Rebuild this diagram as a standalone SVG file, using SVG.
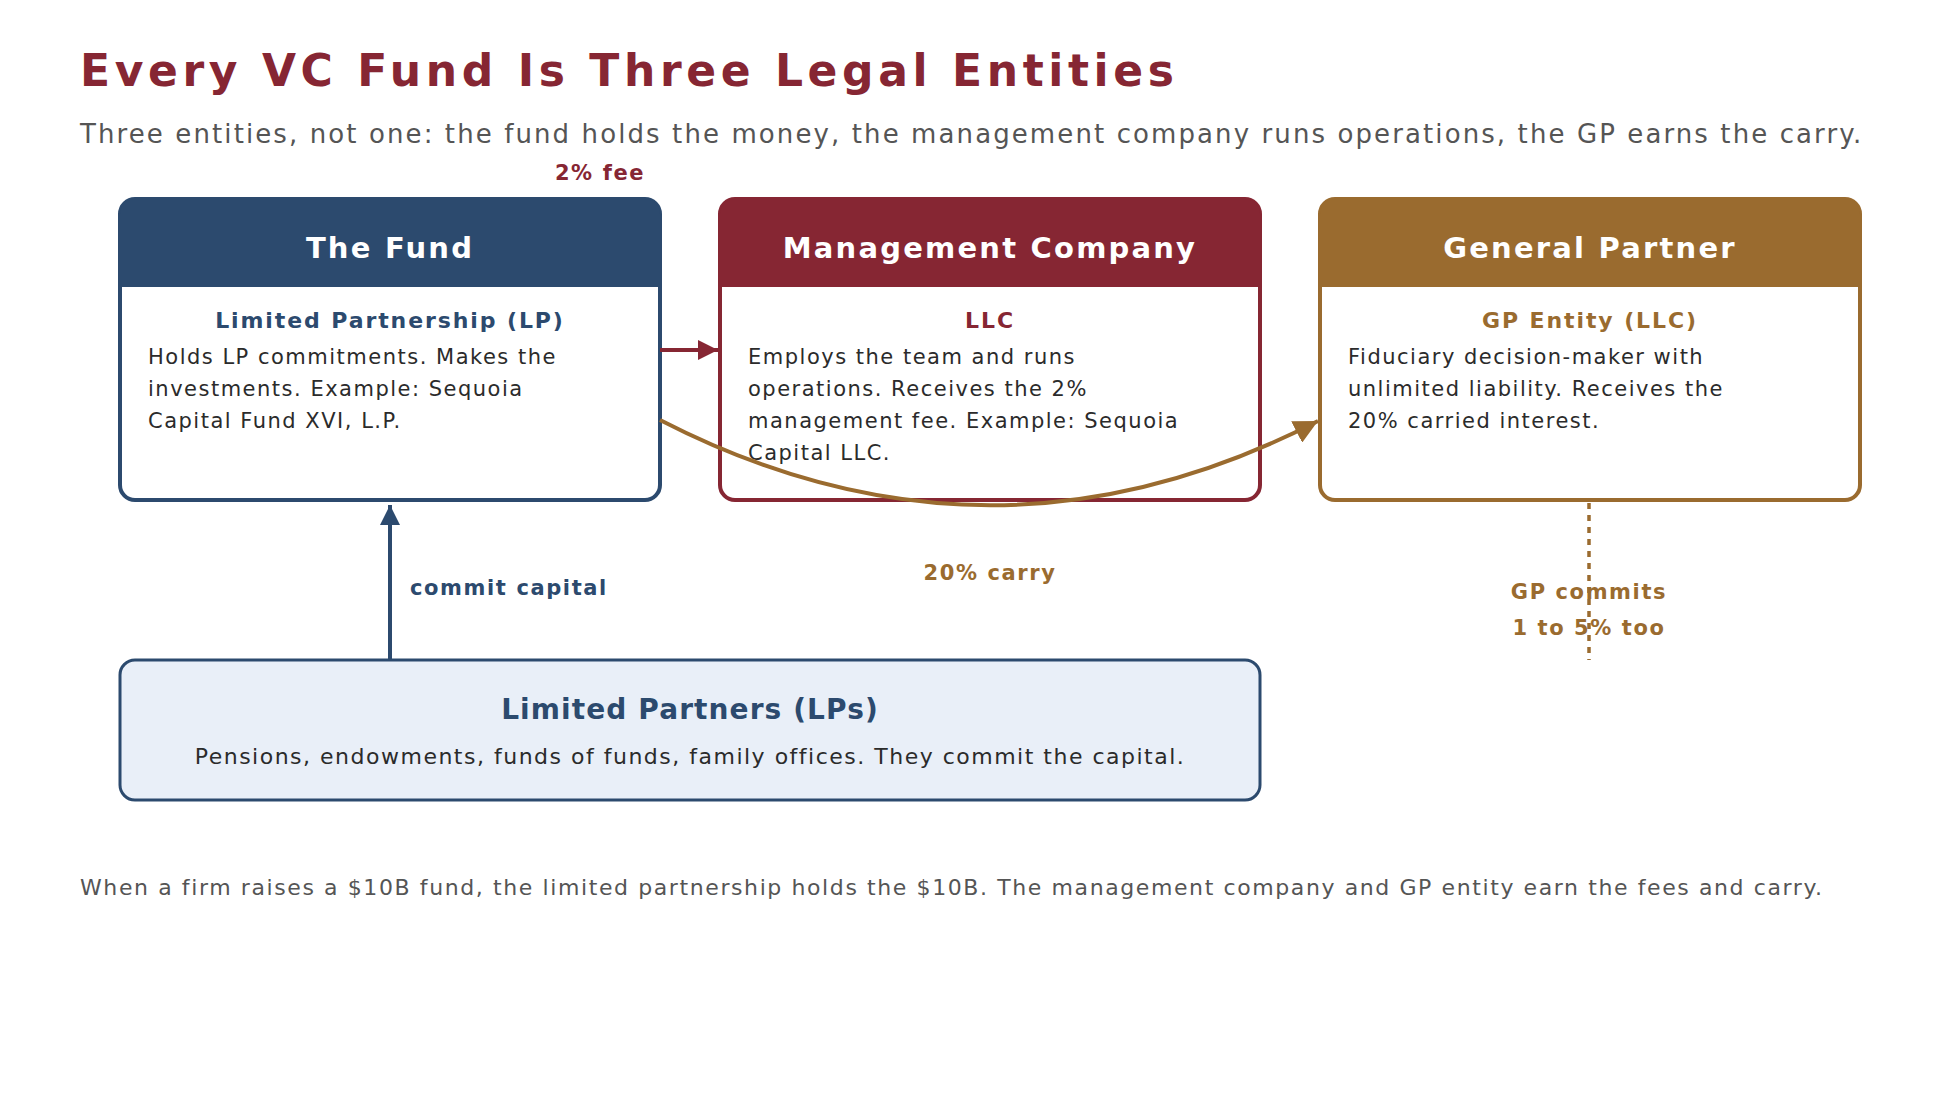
<svg xmlns="http://www.w3.org/2000/svg" width="1960" height="1120" viewBox="0 0 1960 1120">
<style>
text{font-family:"DejaVu Sans","Noto Sans",sans-serif}
.title{font-size:44px;font-weight:bold;fill:#862633;letter-spacing:4.6px}
.sub{font-size:26px;fill:#555;letter-spacing:2.1px}
.hdr{font-size:29px;font-weight:bold;fill:#fff;text-anchor:middle;letter-spacing:2.2px}
.kind{font-size:22px;font-weight:bold;text-anchor:middle;letter-spacing:1.9px}
.body{font-size:21px;fill:#2b2b2b;letter-spacing:1.5px}
.lbl{font-size:21px;font-weight:bold;letter-spacing:1.6px}
.foot{font-size:22px;fill:#555;letter-spacing:1.6px}
</style>
<defs>
<marker id="mR" viewBox="0 0 10 10" refX="10" refY="5" markerWidth="5" markerHeight="5" orient="auto"><path d="M0,0L10,5L0,10z" fill="#862633"/></marker>
<marker id="mB" viewBox="0 0 10 10" refX="10" refY="5" markerWidth="5" markerHeight="5" orient="auto"><path d="M0,0L10,5L0,10z" fill="#2c4a6e"/></marker>
<marker id="mG" viewBox="0 0 10 10" refX="10" refY="5" markerWidth="6" markerHeight="6" orient="auto"><path d="M0,0L10,5L0,10z" fill="#9a6b2f"/></marker>
</defs>
<rect width="1960" height="1120" fill="#fff"/>
<text class="title" x="80" y="86">Every VC Fund Is Three Legal Entities</text>
<text class="sub" x="80" y="143">Three entities, not one: the fund holds the money, the management company runs operations, the GP earns the carry.</text>

<g id="fund">
<rect x="120" y="199" width="540" height="301" rx="15" fill="#fff" stroke="#2c4a6e" stroke-width="4"/>
<path d="M120,287V214a15,15 0 0 1 15,-15H645a15,15 0 0 1 15,15V287z" fill="#2c4a6e"/>
<text class="hdr" x="390" y="258">The Fund</text>
<text class="kind" x="390" y="328" fill="#2c4a6e">Limited Partnership (LP)</text>
<text class="body" x="148" y="364">Holds LP commitments. Makes the</text>
<text class="body" x="148" y="396">investments. Example: Sequoia</text>
<text class="body" x="148" y="428">Capital Fund XVI, L.P.</text>
</g>
<g id="mgmt">
<rect x="720" y="199" width="540" height="301" rx="15" fill="#fff" stroke="#862633" stroke-width="4"/>
<path d="M720,287V214a15,15 0 0 1 15,-15H1245a15,15 0 0 1 15,15V287z" fill="#862633"/>
<text class="hdr" x="990" y="258">Management Company</text>
<text class="kind" x="990" y="328" fill="#862633">LLC</text>
<text class="body" x="748" y="364">Employs the team and runs</text>
<text class="body" x="748" y="396">operations. Receives the 2%</text>
<text class="body" x="748" y="428">management fee. Example: Sequoia</text>
<text class="body" x="748" y="460">Capital LLC.</text>
</g>
<g id="gp">
<rect x="1320" y="199" width="540" height="301" rx="15" fill="#fff" stroke="#9a6b2f" stroke-width="4"/>
<path d="M1320,287V214a15,15 0 0 1 15,-15H1845a15,15 0 0 1 15,15V287z" fill="#9a6b2f"/>
<text class="hdr" x="1590" y="258">General Partner</text>
<text class="kind" x="1590" y="328" fill="#9a6b2f">GP Entity (LLC)</text>
<text class="body" x="1348" y="364">Fiduciary decision-maker with</text>
<text class="body" x="1348" y="396">unlimited liability. Receives the</text>
<text class="body" x="1348" y="428">20% carried interest.</text>
</g>
<g id="lps">
<rect x="120" y="660" width="1140" height="140" rx="15" fill="#e9eff8" stroke="#2c4a6e" stroke-width="3"/>
<text x="690" y="719" font-size="28" font-weight="bold" fill="#2c4a6e" text-anchor="middle" letter-spacing="1.1">Limited Partners (LPs)</text>
<text x="690" y="764" font-size="22" fill="#2b2b2b" text-anchor="middle" letter-spacing="1.5">Pensions, endowments, funds of funds, family offices. They commit the capital.</text>
</g>
<g id="connectors" fill="none">
<line x1="660" y1="350" x2="718" y2="350" stroke="#862633" stroke-width="4" marker-end="url(#mR)"/>
<path d="M660,420Q990,590 1318,421" stroke="#9a6b2f" stroke-width="4" marker-end="url(#mG)"/>
<line x1="390" y1="660" x2="390" y2="505" stroke="#2c4a6e" stroke-width="4" marker-end="url(#mB)"/>
<line x1="1589" y1="503" x2="1589" y2="660" stroke="#9a6b2f" stroke-width="3.5" stroke-dasharray="6,6"/>
<text class="lbl" x="600" y="180" fill="#862633" text-anchor="middle">2% fee</text>
<text class="lbl" x="990" y="580" fill="#9a6b2f" text-anchor="middle">20% carry</text>
<text class="lbl" x="410" y="595" fill="#2c4a6e">commit capital</text>
<text class="lbl" x="1589" y="599" fill="#9a6b2f" text-anchor="middle">GP commits</text>
<text class="lbl" x="1589" y="635" fill="#9a6b2f" text-anchor="middle">1 to 5% too</text>
</g>
<text class="foot" x="80" y="895">When a firm raises a $10B fund, the limited partnership holds the $10B. The management company and GP entity earn the fees and carry.</text>
</svg>
